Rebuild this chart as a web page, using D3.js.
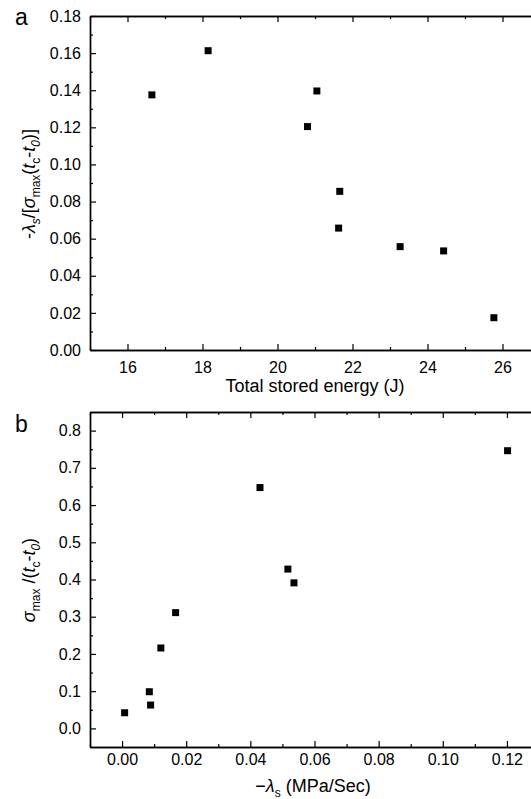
<!DOCTYPE html>
<html>
<head>
<meta charset="utf-8">
<script src="https://cdn.jsdelivr.net/npm/d3@7"></script>
<style>
  body { margin: 0; background: #fff; }
  svg { display: block; }
  text { font-family: "Liberation Sans", Arial, Helvetica, sans-serif; fill: #000; }
</style>
</head>
<body>
<script>
// panel a: energy vs normalised slope
var energyX = [16.65, 18.15, 21.05, 20.80, 21.66, 21.63, 23.27, 24.43, 25.77];
var slopeY  = [0.1375, 0.1613, 0.1396, 0.1204, 0.0855, 0.0657, 0.0557, 0.0534, 0.0174];
var aXTicks = [16, 18, 20, 22, 24, 26];
var aXMinor = [15, 17, 19, 21, 23, 25, 27];
var aYTicks = [0, 0.02, 0.04, 0.06, 0.08, 0.10, 0.12, 0.14, 0.16, 0.18];
var aYMinor = [0.01, 0.03, 0.05, 0.07, 0.09, 0.11, 0.13, 0.15, 0.17];

// panel b: -lambda_s vs stress rate
var lambdaX = [0.1202, 0.0430, 0.0517, 0.0536, 0.0167, 0.0121, 0.0085, 0.0089, 0.0008];
var rateY   = [0.746, 0.647, 0.428, 0.391, 0.311, 0.216, 0.0985, 0.0627, 0.042];
var bXTicks = [0, 0.02, 0.04, 0.06, 0.08, 0.10, 0.12];
var bXMinor = [-0.01, 0.01, 0.03, 0.05, 0.07, 0.09, 0.11, 0.13];
var bYTicks = [0, 0.1, 0.2, 0.3, 0.4, 0.5, 0.6, 0.7, 0.8];
var bYMinor = [-0.05, 0.05, 0.15, 0.25, 0.35, 0.45, 0.55, 0.65, 0.75, 0.85];

var svgWidth = 531;
var svgHeight = 799;

var svg = d3.select('body').append('svg')
  .attr('width', svgWidth)
  .attr('height', svgHeight);

var drawPanel = function(opt){
  var g = svg.append('g');
  var x = d3.scaleLinear().domain(opt.xDomain).range([opt.left, opt.right]);
  var y = d3.scaleLinear().domain(opt.yDomain).range([opt.bottom, opt.top]);

  var styleAxis = function(sel){
    sel.select('.domain').attr('stroke', '#000').attr('stroke-width', 1.4);
    sel.selectAll('.tick line').attr('stroke', '#000').attr('stroke-width', 1.2);
    sel.selectAll('.tick text').style('font-size', '16px').attr('fill', '#000');
  };

  // minor ticks first
  g.append('g').attr('transform', 'translate(0,' + opt.bottom + ')')
    .call(d3.axisBottom(x).tickValues(opt.xMinor).tickSize(-3).tickSizeOuter(0).tickFormat(''))
    .call(styleAxis);
  g.append('g').attr('transform', 'translate(0,' + opt.top + ')')
    .call(d3.axisTop(x).tickValues(opt.xMinor).tickSize(-3).tickSizeOuter(0).tickFormat(''))
    .call(styleAxis);
  g.append('g').attr('transform', 'translate(' + opt.left + ',0)')
    .call(d3.axisLeft(y).tickValues(opt.yMinor).tickSize(-3).tickSizeOuter(0).tickFormat(''))
    .call(styleAxis);

  // major ticks
  g.append('g').attr('transform', 'translate(0,' + opt.bottom + ')')
    .call(d3.axisBottom(x).tickValues(opt.xTicks).tickSize(-6).tickSizeOuter(0)
      .tickPadding(opt.xPad).tickFormat(d3.format(opt.xFmt)))
    .call(styleAxis);
  g.append('g').attr('transform', 'translate(0,' + opt.top + ')')
    .call(d3.axisTop(x).tickValues(opt.xTicks).tickSize(-6).tickSizeOuter(0).tickFormat(''))
    .call(styleAxis);
  g.append('g').attr('transform', 'translate(' + opt.left + ',0)')
    .call(d3.axisLeft(y).tickValues(opt.yTicks).tickSize(-6).tickSizeOuter(0)
      .tickPadding(9).tickFormat(d3.format(opt.yFmt)))
    .call(styleAxis);

  // points
  g.selectAll('rect.pt').data(opt.xs)
    .enter().append('rect')
    .attr('class', 'pt')
    .attr('x', function(d){ return x(d) - 3.5; })
    .attr('y', function(d, i){ return y(opt.ys[i]) - 3.5; })
    .attr('width', 7)
    .attr('height', 7)
    .attr('fill', '#000');

  // panel letter
  g.append('text').text(opt.letter)
    .attr('x', 15)
    .attr('y', opt.top + opt.letterDy)
    .style('font-size', '23px');

  return {g: g, x: x, y: y};
};

var a = drawPanel({
  xDomain: [15, 27], yDomain: [0, 0.18],
  left: 90, right: 540, top: 16, bottom: 350,
  xTicks: aXTicks, xMinor: aXMinor, yTicks: aYTicks, yMinor: aYMinor,
  xFmt: 'd', yFmt: '.2f', xPad: 12,
  xs: energyX, ys: slopeY, letter: 'a', letterDy: 9
});

var b = drawPanel({
  xDomain: [-0.01, 0.13], yDomain: [-0.05, 0.85],
  left: 90, right: 539, top: 412, bottom: 747,
  xTicks: bXTicks, xMinor: bXMinor, yTicks: bYTicks, yMinor: bYMinor,
  xFmt: '.2f', yFmt: '.1f', xPad: 7,
  xs: lambdaX, ys: rateY, letter: 'b', letterDy: 20
});

// axis titles
var addPieces = function(txt, pieces){
  pieces.forEach(function(p){
    var t = txt.append('tspan').text(p.t);
    if(p.i){ t.style('font-style', 'italic'); }
    if(p.sub){ t.style('font-size', '12px').attr('dy', p.dy); }
    else if(p.dy){ t.attr('dy', p.dy); }
  });
};

a.g.append('text')
  .attr('x', 315).attr('y', 392)
  .attr('text-anchor', 'middle')
  .style('font-size', '18px')
  .text('Total stored energy (J)');

var aYTitle = a.g.append('text')
  .attr('transform', 'translate(35,184) rotate(-90)')
  .attr('text-anchor', 'middle')
  .style('font-size', '18px');
addPieces(aYTitle, [
  {t: '-'}, {t: 'λ', i: true}, {t: 's', i: true, sub: true, dy: 5},
  {t: '/[', dy: -5}, {t: 'σ', i: true}, {t: 'max', sub: true, dy: 5},
  {t: '(', dy: -5}, {t: 't', i: true}, {t: 'c', sub: true, dy: 5},
  {t: '-', dy: -5}, {t: 't', i: true}, {t: '0', i: true, sub: true, dy: 5},
  {t: ')]', dy: -5}
]);

var bXTitle = b.g.append('text')
  .attr('x', 313).attr('y', 792)
  .attr('text-anchor', 'middle')
  .style('font-size', '18px');
addPieces(bXTitle, [
  {t: '−'}, {t: 'λ', i: true}, {t: 's', sub: true, dy: 5},
  {t: ' (MPa/Sec)', dy: -5}
]);

var bYTitle = b.g.append('text')
  .attr('transform', 'translate(35,580) rotate(-90)')
  .attr('text-anchor', 'middle')
  .style('font-size', '18px');
addPieces(bYTitle, [
  {t: 'σ', i: true}, {t: 'max', sub: true, dy: 5},
  {t: ' /(', dy: -5}, {t: 't', i: true}, {t: 'c', sub: true, dy: 5},
  {t: '-', dy: -5}, {t: 't', i: true}, {t: '0', i: true, sub: true, dy: 5},
  {t: ')', dy: -5}
]);
</script>
</body>
</html>
